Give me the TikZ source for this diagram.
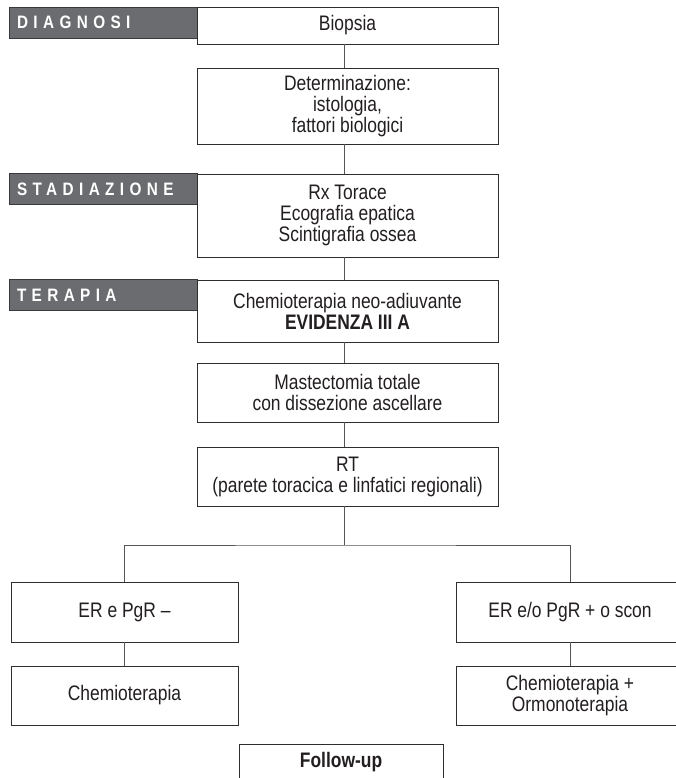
\documentclass[tikz,border=0pt]{standalone}
\usepackage{fontspec}
\setmainfont[FakeStretch=0.83]{Liberation Sans}
\newfontfamily\barfont[FakeStretch=0.85,LetterSpace=30]{Liberation Sans}
\definecolor{bargray}{HTML}{6B6C6F}
\definecolor{bardark}{HTML}{3A3A3C}
\definecolor{boxline}{HTML}{2E2E2E}
\definecolor{connline}{HTML}{555555}
\definecolor{ink}{HTML}{231F20}
\tikzset{
  box/.style={draw=boxline, line width=0.9pt, fill=white, align=center, inner sep=0pt,
    text=ink, font=\fontsize{21}{21}\selectfont},
  colbox/.style={box, minimum width=301pt},
  sidebox/.style={box, minimum width=227pt},
  bar/.style={draw=bardark, fill=bargray, line width=0.8pt, minimum width=188pt,
    minimum height=31pt, inner xsep=8pt, inner ysep=0pt, text width=172pt, align=left,
    text=white, font=\barfont\bfseries\fontsize{18}{18}\selectfont},
  conn/.style={draw=connline, line width=0.8pt},
}
\begin{document}
\begin{tikzpicture}[x=1pt,y=-1pt]
\useasboundingbox (0,0) rectangle (675,778);
% section bars
\node[bar] (bar1) at (103,22.5) {DIAGNOSI};
\node[bar] (bar2) at (103,189) {STADIAZIONE};
\node[bar] (bar3) at (103,295) {TERAPIA};
% main column
\node[colbox, minimum height=37pt] (b1) at (347.5,25.5) {Biopsia};
\node[colbox, minimum height=76pt] (b2) at (347.5,106) {Determinazione:\\istologia,\\fattori biologici};
\node[colbox, minimum height=83pt] (b3) at (347.5,215.5) {Rx Torace\\Ecografia epatica\\Scintigrafia ossea};
\node[colbox, minimum height=62pt] (b4) at (347.5,311) {Chemioterapia neo-adiuvante\\\textbf{EVIDENZA III A}};
\node[colbox, minimum height=59pt] (b5) at (347.5,392.5) {Mastectomia totale\\con dissezione ascellare};
\node[colbox, minimum height=59pt] (b6) at (347.5,476.5) {RT\\(parete toracica e linfatici regionali)};
% branches
\node[sidebox, minimum height=60pt] (b7) at (124.5,612) {ER e PgR --};
\node[sidebox, minimum height=60pt] (b8) at (570,612) {ER e/o PgR + o scon};
\node[sidebox, minimum height=59pt] (b9) at (124.5,695.5) {Chemioterapia};
\node[sidebox, minimum height=59pt] (b10) at (570,695.5) {Chemioterapia +\\Ormonoterapia};
\node[box, minimum width=204pt, minimum height=36pt, anchor=north] (b11) at (341,744) {\textbf{Follow-up}};
% connectors
\draw[conn] ([xshift=-3.5pt]b1.south) -- ([xshift=-3.5pt]b2.north);
\draw[conn] ([xshift=-3.5pt]b2.south) -- ([xshift=-3.5pt]b3.north);
\draw[conn] ([xshift=-3.5pt]b3.south) -- ([xshift=-3.5pt]b4.north);
\draw[conn] ([xshift=-3.5pt]b4.south) -- ([xshift=-3.5pt]b5.north);
\draw[conn] ([xshift=-3.5pt]b5.south) -- ([xshift=-3.5pt]b6.north);
\coordinate (split) at (344,545);
\draw[conn] ([xshift=-3.5pt]b6.south) -- (split);
\draw[conn] (b7.north) |- (split) -| (b8.north);
\draw[conn] (b7.south) -- (b9.north);
\draw[conn] (b8.south) -- (b10.north);
\end{tikzpicture}
\end{document}
